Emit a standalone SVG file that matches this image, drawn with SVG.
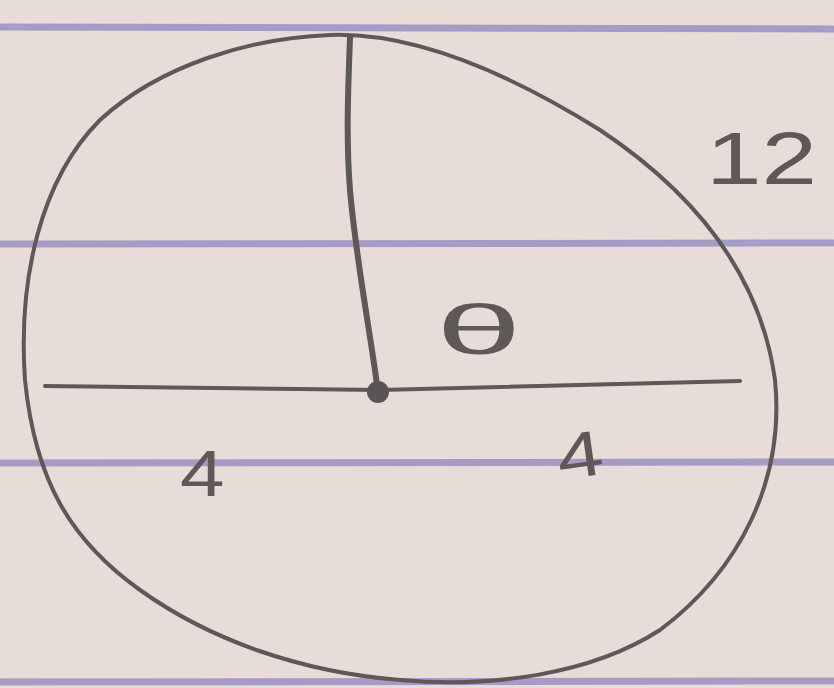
<svg xmlns="http://www.w3.org/2000/svg" width="834" height="688" viewBox="0 0 834 688">
<style>
.rule{stroke:#9b90c2;stroke-width:7;opacity:.85}
.ink{fill:none;stroke:#5e5858;stroke-linecap:round;stroke-linejoin:round}
.lbl{font-family:"Liberation Sans",Arial,sans-serif;fill:#5e5858;font-weight:300}
</style>
<rect width="834" height="688" fill="#e8dcd8"/>
<g id="paper-lines">
<line class="rule" x1="0" y1="27" x2="834" y2="29"/>
<line class="rule" x1="0" y1="244" x2="834" y2="243"/>
<line class="rule" x1="0" y1="463" x2="834" y2="462"/>
<line class="rule" x1="0" y1="682" x2="834" y2="681"/>
</g>
<g id="circle">
<path class="ink" stroke-width="4" d="M330,35 C420,32 520,80 600,130 C690,190 760,270 775,380 C785,480 740,570 660,630 C590,675 490,688 400,680 C300,672 210,640 140,590 C70,540 35,480 25,380 C18,280 40,180 100,120 C160,65 250,38 330,35 Z"/>
</g>
<g id="radius">
<path class="ink" stroke-width="6" d="M350,38 C348,90 346,140 350,190 C356,260 370,330 378,392"/>
</g>
<g id="diameter">
<path class="ink" stroke-width="4" d="M45,386 L380,390 L740,381"/>
<circle cx="378" cy="392" r="11" fill="#5a5454"/>
</g>
<g id="labels">
<text class="lbl" x="0" y="0" font-size="74" transform="translate(706,184) scale(1.35,1)">12</text>
<text class="lbl" x="0" y="0" font-size="70" transform="translate(436,354) scale(2.2,1)">θ</text>
<text class="lbl" x="0" y="0" font-size="64" transform="translate(180,496) scale(1.25,1)">4</text>
<text class="lbl" x="0" y="0" font-size="64" transform="translate(560,480) rotate(-8) scale(1.3,1)">4</text>
</g>
</svg>
